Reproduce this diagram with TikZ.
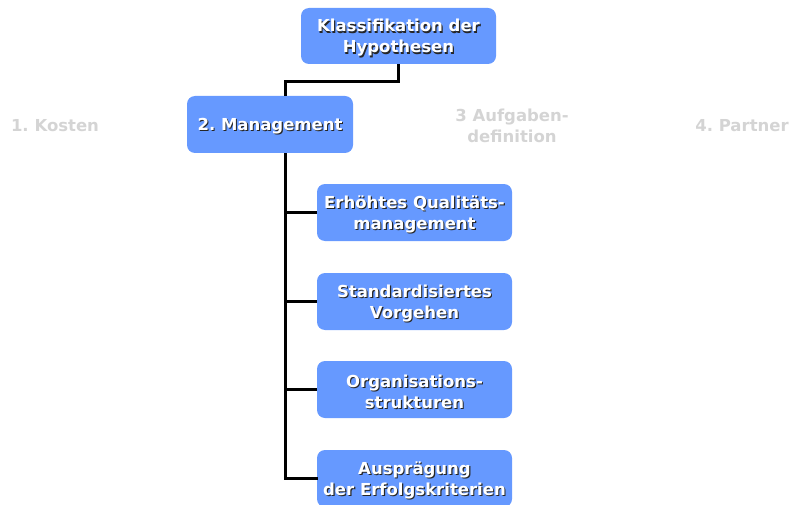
\documentclass[tikz,border=0pt]{standalone}
\usepackage{fontspec}
\setmainfont{DejaVu Sans}
\frenchspacing
\definecolor{boxblue}{RGB}{102,153,255}
\definecolor{ghostgray}{RGB}{212,212,212}
\newcommand{\shadowed}[1]{\leavevmode\raisebox{-2.5pt}[\height][\depth]{\rlap{\kern1.1pt\raisebox{-1.1pt}{\textcolor{black!85}{#1}}}#1}}
\begin{document}
\begin{tikzpicture}[
    x=1pt, y=-1pt,
    box/.style={
        fill=boxblue,
        rounded corners=8pt,
        rectangle,
        align=center,
        inner sep=2pt,
        text=white,
        font=\fontsize{16.5}{21}\selectfont\bfseries
    },
    ghost/.style={
        align=center,
        text=ghostgray,
        font=\fontsize{16.5}{21}\selectfont\bfseries
    },
    link/.style={
        draw,
        line width=3pt
    }
]
    \useasboundingbox (0,0) rectangle (791,505);

    % Wurzel
    \node[box, minimum width=195pt, minimum height=56pt] (wurzel) at (398.5,36)
        {\shadowed{Klassifikation der}\\\shadowed{Hypothesen}};

    % Kategorien
    \node[ghost] (kosten) at (55,126) {1. Kosten};
    \node[box, minimum width=166pt, minimum height=57pt] (management) at (270,124.5)
        {\shadowed{2. Management}};
    \node[ghost] (aufgaben) at (512,126) {3 Aufgaben-\\definition};
    \node[ghost] (partner) at (742,126) {4. Partner};

    % Hypothesen unter Management
    \node[box, minimum width=195pt, minimum height=57pt] (qualitaet) at (414.5,212.5)
        {\shadowed{Erhöhtes Qualitäts-}\\\shadowed{management}};
    \node[box, minimum width=195pt, minimum height=57pt] (vorgehen) at (414.5,301.5)
        {\shadowed{Standardisiertes}\\\shadowed{Vorgehen}};
    \node[box, minimum width=195pt, minimum height=57pt] (struktur) at (414.5,389.5)
        {\shadowed{Organisations-}\\\shadowed{strukturen}};
    \node[box, minimum width=195pt, minimum height=57pt] (erfolg) at (414.5,478.5)
        {\shadowed{Ausprägung}\\\shadowed{der Erfolgskriterien}};

    % Verbindungslinien
    \coordinate (knick) at (285,82);
    \coordinate (stamm) at (285,478.5);
    \draw[link] (wurzel.south) |- (knick) -- (knick |- management.north);
    \draw[link] (knick |- management.south) -- (stamm);
    \draw[link] (knick |- qualitaet.west) -- (qualitaet.west);
    \draw[link] (knick |- vorgehen.west) -- (vorgehen.west);
    \draw[link] (knick |- struktur.west) -- (struktur.west);
    \draw[link, line cap=rect] (stamm) -- (erfolg.west);

\end{tikzpicture}
\end{document}
